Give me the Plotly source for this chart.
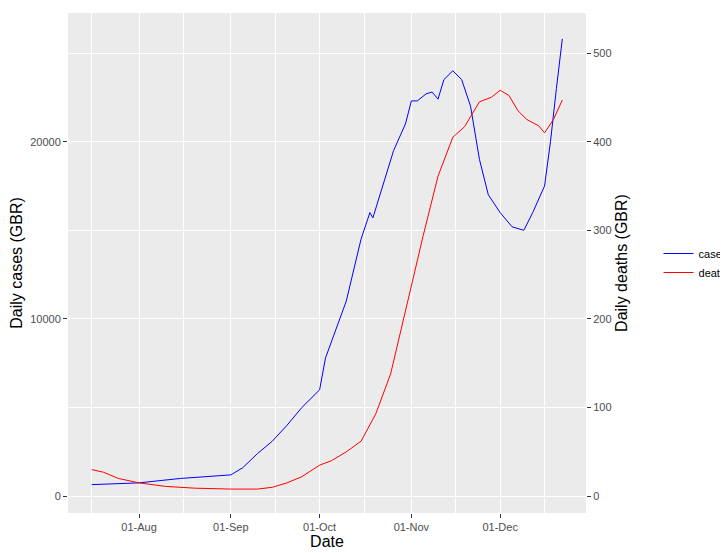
import plotly.graph_objects as go

case_dates = ["2020-07-16","2020-08-01","2020-08-15","2020-09-01","2020-09-05","2020-09-10","2020-09-15","2020-09-20","2020-09-25","2020-10-01","2020-10-03","2020-10-10","2020-10-15","2020-10-18","2020-10-19","2020-10-22","2020-10-26","2020-10-30","2020-11-01","2020-11-03","2020-11-06","2020-11-08","2020-11-10","2020-11-12","2020-11-15","2020-11-18","2020-11-21","2020-11-24","2020-11-27","2020-12-01","2020-12-05","2020-12-09","2020-12-12","2020-12-16","2020-12-18","2020-12-20","2020-12-22"]
cases = [650,750,1000,1200,1600,2400,3100,4000,5000,6000,7800,11000,14500,16000,15700,17300,19500,21000,22300,22300,22700,22800,22400,23500,24000,23500,22000,19000,17000,16000,15200,15000,16000,17500,20000,23000,25800]

death_dates = ["2020-07-16","2020-07-20","2020-07-25","2020-08-01","2020-08-10","2020-08-20","2020-09-01","2020-09-10","2020-09-15","2020-09-20","2020-09-25","2020-10-01","2020-10-05","2020-10-10","2020-10-15","2020-10-20","2020-10-25","2020-11-01","2020-11-05","2020-11-10","2020-11-15","2020-11-19","2020-11-24","2020-11-28","2020-12-01","2020-12-04","2020-12-07","2020-12-10","2020-12-14","2020-12-16","2020-12-19","2020-12-22"]
deaths = [30,27,20,15,11,9,8,8,10,15,22,35,40,50,62,93,138,238,294,361,405,417,445,450,458,452,435,425,418,410,425,447]

x_ticks = ["2020-08-01","2020-09-01","2020-10-01","2020-11-01","2020-12-01"]
x_labels = ["01-Aug","01-Sep","01-Oct","01-Nov","01-Dec"]

fig = go.Figure()
fig.add_trace(go.Scatter(x=case_dates, y=cases, name="cases", mode="lines", line=dict(color="blue", width=1)))
fig.add_trace(go.Scatter(x=death_dates, y=deaths, name="deaths", mode="lines", line=dict(color="red", width=1), yaxis="y2"))

grey = "#4D4D4D"
fig.update_layout(
    width=728, height=553,
    margin=dict(l=60, r=150, t=5, b=48, autoexpand=False),
    plot_bgcolor="#EBEBEB", paper_bgcolor="white",
    font=dict(family="Liberation Sans, Arial", size=13, color="black"),
    xaxis=dict(range=["2020-07-08","2020-12-30"], tickvals=x_ticks, ticktext=x_labels,
               gridcolor="white", gridwidth=1.2, ticks="outside", ticklen=4, tickcolor="#333",
               tickfont=dict(color=grey, size=11), title=dict(text="Date", standoff=2),
               zeroline=False, minor=dict(dtick="M1", tick0="2020-07-16", showgrid=True, gridcolor="white", gridwidth=0.5)),
    yaxis=dict(range=[-950, 27260], tickvals=[0,10000,20000], tickformat="d", gridcolor="white", gridwidth=1.2,
               ticks="outside", ticklen=4, tickcolor="#333", tickfont=dict(color=grey, size=11),
               title=dict(text="Daily cases (GBR)", standoff=5), zeroline=False,
               minor=dict(tickvals=[5000,15000,25000], showgrid=True, gridcolor="white", gridwidth=0.5)),
    yaxis2=dict(range=[-19, 545.2], overlaying="y", side="right", tickvals=[0,100,200,300,400,500],
                showgrid=False, ticks="outside", ticklen=4, tickcolor="#333", tickfont=dict(color=grey, size=11),
                title=dict(text="Daily deaths (GBR)", standoff=5), zeroline=False),
    legend=dict(x=1.14, y=0.5, yanchor="middle", xanchor="left", bgcolor="white", font=dict(size=11)),
)
fig.write_html("out.html")
